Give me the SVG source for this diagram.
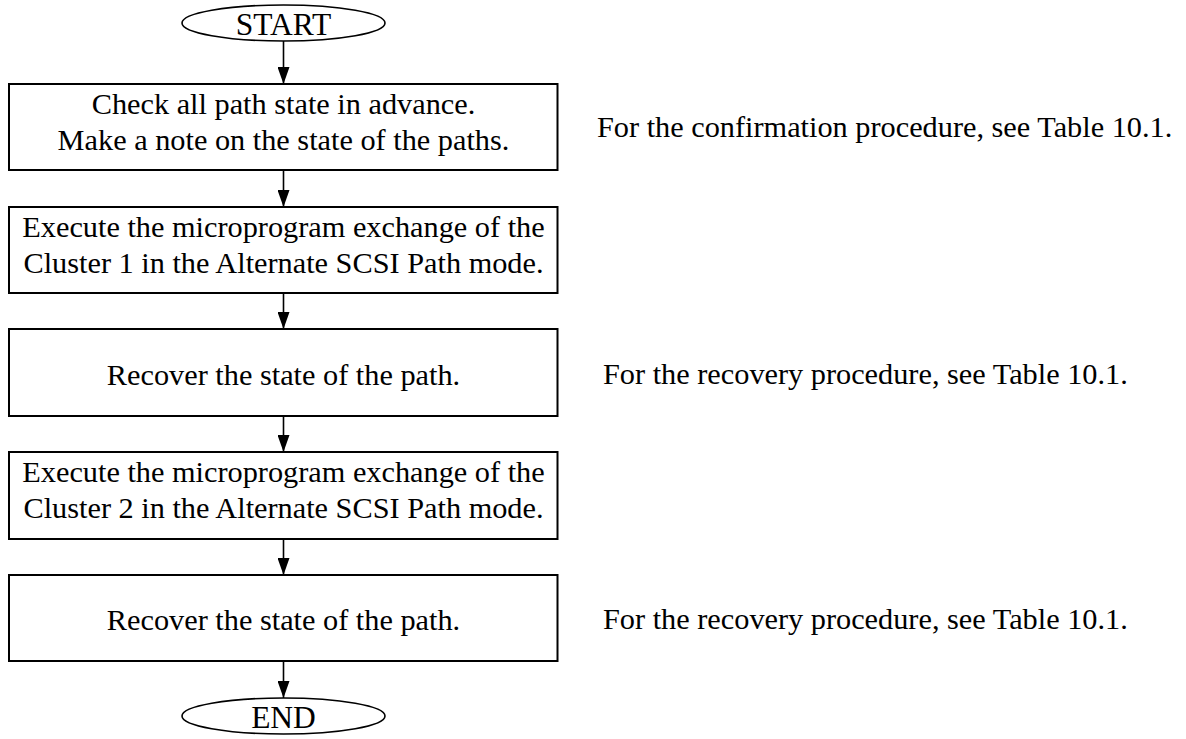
<svg xmlns="http://www.w3.org/2000/svg" width="1186" height="739" viewBox="0 0 1186 739">
<style>
text{font-family:"Liberation Serif","Times New Roman",serif;font-size:30.3px;fill:#000}
.c{text-anchor:middle}
.t{font-size:31.5px}
.b{fill:#fff;stroke:#000;stroke-width:2}
.e{fill:#fff;stroke:#000;stroke-width:1.6}
.l{stroke:#000;stroke-width:1.6;fill:none}
</style>
<defs>
<marker id="ah" markerWidth="17" markerHeight="12" refX="17" refY="6" orient="auto" markerUnits="userSpaceOnUse" viewBox="0 0 17 12">
<path d="M0,0 L17,6 L0,12 Z" fill="#000"/>
</marker>
</defs>
<rect width="1186" height="739" fill="#fff"/>
<g id="connectors">
<line class="l" x1="283.5" y1="41" x2="283.5" y2="84" marker-end="url(#ah)"/>
<line class="l" x1="283.5" y1="170" x2="283.5" y2="207" marker-end="url(#ah)"/>
<line class="l" x1="283.5" y1="293" x2="283.5" y2="329" marker-end="url(#ah)"/>
<line class="l" x1="283.5" y1="416" x2="283.5" y2="452" marker-end="url(#ah)"/>
<line class="l" x1="283.5" y1="539" x2="283.5" y2="575" marker-end="url(#ah)"/>
<line class="l" x1="283.5" y1="661" x2="283.5" y2="698" marker-end="url(#ah)"/>
</g>
<g id="start">
<ellipse class="e" cx="283.5" cy="23" rx="101.5" ry="18"/>
<text class="c t" x="283.5" y="35">START</text>
</g>
<g id="step1">
<rect class="b" x="9" y="84" width="548.5" height="86"/>
<text class="c" x="283.5" y="114">Check all path state in advance.</text>
<text class="c" x="283.5" y="150">Make a note on the state of the paths.</text>
</g>
<g id="step2">
<rect class="b" x="9" y="207" width="548.5" height="86"/>
<text class="c" x="283.5" y="237">Execute the microprogram exchange of the</text>
<text class="c" x="283.5" y="273">Cluster 1 in the Alternate SCSI Path mode.</text>
</g>
<g id="step3">
<rect class="b" x="9" y="329" width="548.5" height="87"/>
<text class="c" x="283.5" y="385">Recover the state of the path.</text>
</g>
<g id="step4">
<rect class="b" x="9" y="452" width="548.5" height="87"/>
<text class="c" x="283.5" y="482">Execute the microprogram exchange of the</text>
<text class="c" x="283.5" y="518">Cluster 2 in the Alternate SCSI Path mode.</text>
</g>
<g id="step5">
<rect class="b" x="9" y="575" width="548.5" height="86"/>
<text class="c" x="283.5" y="630">Recover the state of the path.</text>
</g>
<g id="end">
<ellipse class="e" cx="283.5" cy="716" rx="101.5" ry="18"/>
<text class="c t" x="283.5" y="728">END</text>
</g>
<g id="notes">
<text x="597" y="137">For the confirmation procedure, see Table 10.1.</text>
<text x="603" y="384">For the recovery procedure, see Table 10.1.</text>
<text x="603" y="629">For the recovery procedure, see Table 10.1.</text>
</g>
</svg>
